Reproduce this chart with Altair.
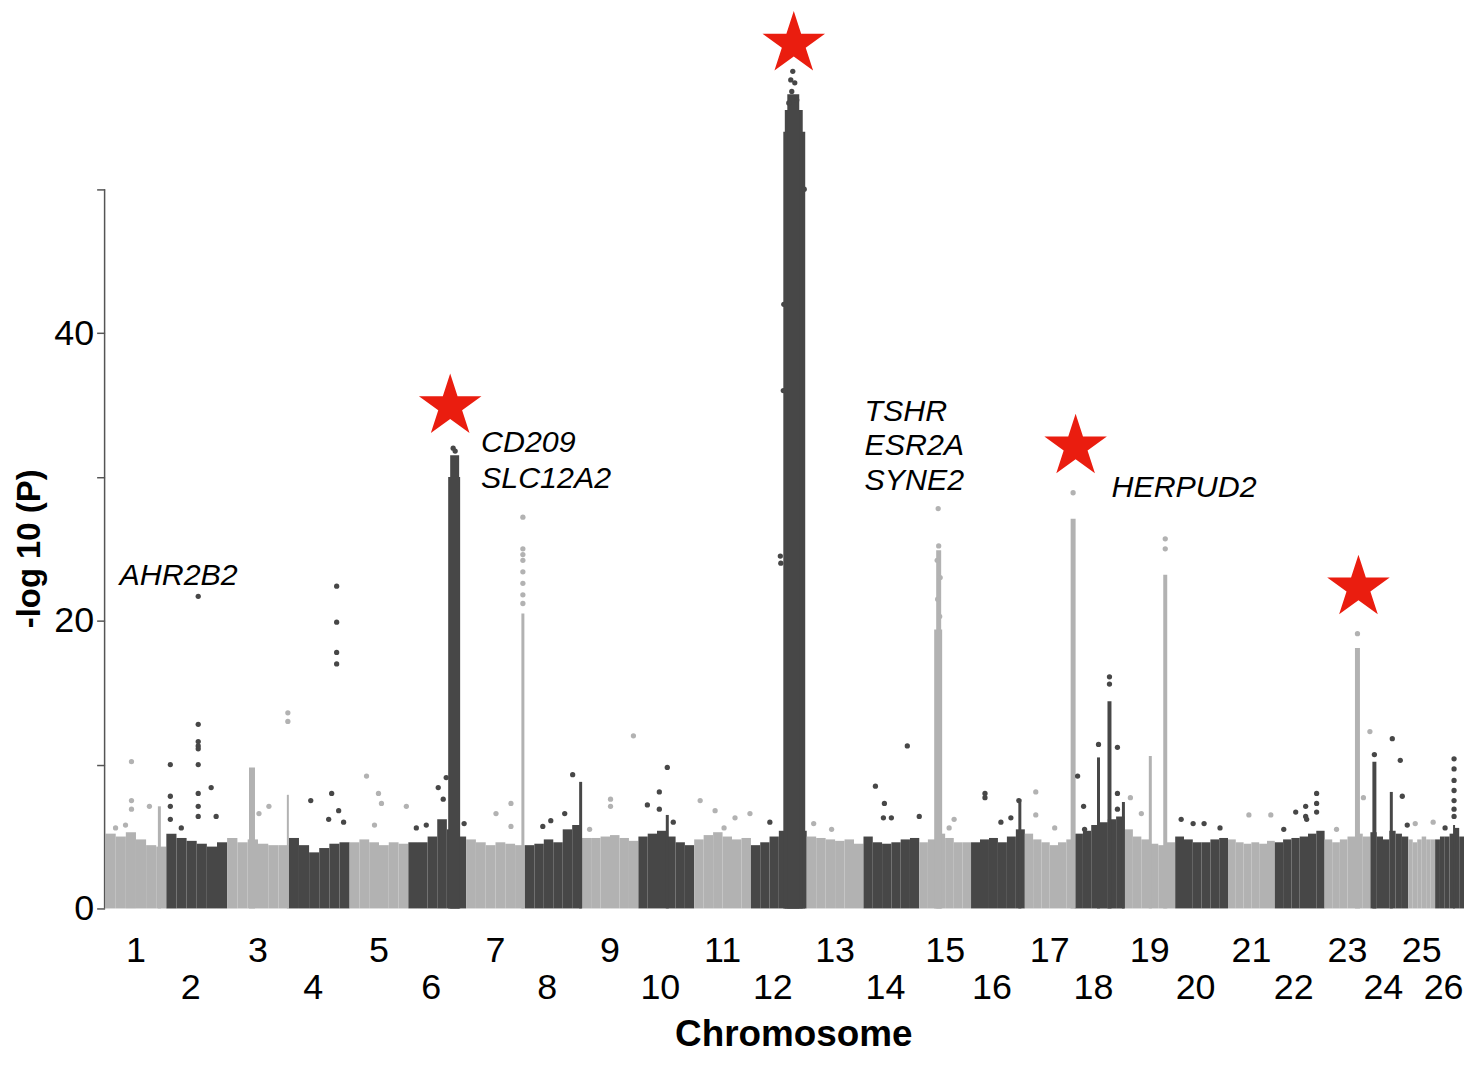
import altair as alt
import pandas as pd

# ---------------- data ----------------
chromosomes = [str(i) for i in range(1, 27)]
# chromosome lengths (Mb, relative)
chrom_len = [61, 61, 62, 61, 59, 58, 59, 57, 57, 56, 57, 56, 57, 56,
             52, 54, 50, 50, 51, 53, 47, 50, 46, 38, 27, 29]

# upper edge of the dense band of SNPs, 6 segments per chromosome (-log10 P)
band_tops = [
    [5.2, 5.0, 5.3, 4.8, 4.4, 4.3],
    [5.2, 4.9, 4.7, 4.5, 4.3, 4.6],
    [4.9, 4.6, 4.8, 4.5, 4.4, 4.4],
    [4.9, 4.4, 3.9, 4.2, 4.5, 4.6],
    [4.6, 4.8, 4.6, 4.4, 4.6, 4.5],
    [4.6, 4.6, 5.0, 6.2, 5.5, 5.0],
    [4.8, 4.6, 4.4, 4.6, 4.5, 4.4],
    [4.4, 4.5, 4.8, 4.6, 5.5, 5.8],
    [4.9, 4.9, 5.0, 5.1, 4.9, 4.7],
    [5.0, 5.2, 5.4, 5.0, 4.6, 4.4],
    [4.8, 5.1, 5.3, 5.0, 4.8, 4.9],
    [4.4, 4.6, 5.0, 5.4, 5.4, 5.4],
    [5.0, 4.9, 4.8, 4.7, 4.8, 4.5],
    [5.0, 4.6, 4.5, 4.6, 4.8, 4.9],
    [4.6, 4.8, 5.2, 4.9, 4.6, 4.6],
    [4.6, 4.8, 4.9, 4.6, 5.0, 5.5],
    [5.2, 4.8, 4.6, 4.4, 4.6, 4.8],
    [5.2, 5.4, 5.8, 6.0, 6.2, 6.4],
    [5.5, 5.0, 4.8, 4.5, 4.4, 4.6],
    [5.0, 4.8, 4.6, 4.6, 4.8, 4.9],
    [4.8, 4.6, 4.5, 4.6, 4.5, 4.7],
    [4.6, 4.8, 4.9, 5.0, 5.2, 5.4],
    [4.8, 4.6, 4.8, 5.0, 5.2, 5.0],
    [5.3, 5.0, 4.8, 5.4, 5.2, 5.0],
    [4.8, 4.6, 4.8, 5.0, 4.8, 4.8],
    [4.8, 5.0, 5.0, 5.2, 5.6, 5.0],
]

# dense association peaks (columns of SNPs): chromosome, position, width, top
col_chrom = [1, 3, 3, 6, 6, 7, 8, 10, 12, 12, 12, 15, 15, 16, 17, 18, 18, 18, 19, 19, 23, 24, 24, 26]
col_pos   = [54, 25, 61, 46, 46.5, 57, 56, 29, 43.5, 43, 42.5, 19, 19.5, 49, 48.5, 24, 35, 49, 26, 41, 33, 4, 21, 19]
col_width = [3, 6, 2, 12, 9, 3, 3, 3, 22, 18, 12, 8, 5, 3, 5, 3, 4, 3, 3, 4, 5, 4, 3, 2]
col_top   = [7.1, 9.8, 7.9, 30.0, 31.5, 20.5, 8.8, 6.5, 54.0, 55.5, 56.6, 19.4, 24.9, 7.6, 27.1,
             10.5, 14.4, 7.4, 10.6, 23.2, 18.1, 10.2, 8.1, 5.8]

# individual SNPs above the band: chromosome, position, -log10 P
pt_chrom = (
    [1] * 6 + [2] * 16 + [3] * 4 + [4] * 9 + [5] * 5 + [6] * 8 + [7] * 11 + [8] * 4
    + [9] * 4 + [10] * 5 + [11] * 5 + [12] * 12 + [13] * 2 + [14] * 6 + [15] * 8
    + [16] * 5 + [17] * 4 + [18] * 9 + [19] * 4 + [20] * 4 + [21] * 2 + [22] * 8
    + [23] * 4 + [24] * 5 + [25] * 2 + [26] * 8
)
pt_pos = [
    26, 26, 26, 44, 10, 20,
    32, 32, 32, 32, 32, 32, 32, 32, 32, 4, 4, 4, 45, 50, 4, 15,
    42, 61, 61, 32,
    48, 48, 48, 48, 22, 43, 50, 40, 55,
    17, 29, 32, 57, 25,
    30, 38, 8, 18, 35, 45, 47, 56,
    57, 57, 57, 57, 57, 57, 57, 57, 45, 30, 45,
    48, 26, 18, 40,
    52, 29, 29, 8,
    29, 21, 9, 21, 35,
    6, 21, 41, 56, 30,
    19, 42, 40, 44, 41, 46, 38, 29.5, 30, 33, 32.5, 53.5,
    7, 25,
    44, 12, 21, 20, 28, 56,
    19, 19.5, 18, 21, 18.5, 20.5, 35, 30,
    14, 14, 48, 30, 40,
    11, 11, 48.5, 30,
    3, 9, 10, 24, 35, 35, 43, 43, 43,
    6, 17, 41, 41,
    6, 18, 29, 45,
    21, 43,
    9, 21, 31, 31, 42, 42, 42, 32,
    45.5, 39, 12, 33,
    22, 30, 32, 37, 4,
    7, 25,
    19, 19, 19, 19, 19, 19, 19, 10,
]
pt_val = [
    10.2, 7.5, 6.9, 7.1, 5.6, 5.8,
    21.7, 12.8, 11.6, 11.3, 11.1, 10.0, 8.0, 7.1, 6.4, 10.0, 7.8, 7.1, 8.4, 6.4, 6.2, 5.6,
    7.1, 13.6, 13.0, 6.6,
    22.4, 19.9, 17.8, 17.0, 7.5, 8.0, 6.8, 6.2, 6.0,
    9.2, 8.0, 7.3, 7.1, 5.8,
    8.4, 9.1, 5.6, 5.8, 7.6, 32.0, 31.8, 5.9,
    27.2, 25.0, 24.6, 24.2, 23.4, 22.6, 21.8, 21.2, 7.3, 6.6, 5.7,
    9.3, 6.1, 5.7, 6.6,
    12.0, 7.6, 7.1, 5.5,
    9.8, 8.1, 7.2, 6.9, 6.0,
    7.5, 6.8, 6.3, 6.6, 5.6,
    6.0, 58.2, 57.6, 57.4, 56.8, 56.2, 56.0, 24.5, 24.0, 42.0, 36.0, 50.0,
    5.9, 5.5,
    11.3, 8.5, 7.3, 6.3, 6.3, 6.4,
    27.8, 25.2, 24.2, 23.0, 21.5, 20.3, 6.2, 5.6,
    8.0, 7.7, 7.5, 6.0, 6.3,
    8.1, 6.5, 28.9, 5.6,
    9.2, 7.1, 5.5, 11.4, 15.6, 16.1, 11.2, 8.0, 6.9,
    7.7, 6.6, 25.7, 25.0,
    6.2, 5.9, 5.9, 5.6,
    6.5, 6.5,
    5.5, 6.7, 7.1, 6.4, 8.0, 7.3, 6.7, 6.2,
    12.3, 7.7, 5.5, 19.1,
    11.8, 10.3, 7.8, 5.8, 10.7,
    5.9, 6.0,
    10.4, 9.7, 8.9, 8.2, 7.5, 6.9, 6.4, 5.6,
]

# highlighted loci (red stars)
star_chrom = [6, 12, 18, 23]
star_pos = [42, 43, 1, 34]
star_val = [34.9, 60.1, 32.1, 22.3]

# candidate gene annotations (x in genome Mb, y in -log10 P)
gene_text = ["AHR2B2", "CD209", "SLC12A2", "TSHR", "ESR2A", "SYNE2", "HERPUD2"]
gene_x = [15, 378, 378, 763, 763, 763, 1011]
gene_y = [22.5, 31.7, 29.2, 33.9, 31.5, 29.1, 28.6]

# ---------------- build tables ----------------
starts = []
acc = 1
for L in chrom_len:
    starts.append(acc)
    acc += L
GENOME_END = acc

def shade(c):
    return "light" if c % 2 == 1 else "dark"

band_rows = []
for i, (s, L) in enumerate(zip(starts, chrom_len)):
    tops = band_tops[i]
    n = len(tops)
    for j, t in enumerate(tops):
        band_rows.append({"x0": s + j * L / n, "x1": s + (j + 1) * L / n,
                          "y0": 0, "y1": t, "shade": shade(i + 1)})
bands = pd.DataFrame(band_rows)

cols = pd.DataFrame({
    "x0": [starts[c - 1] + p - w / 2 for c, p, w in zip(col_chrom, col_pos, col_width)],
    "x1": [starts[c - 1] + p + w / 2 for c, p, w in zip(col_chrom, col_pos, col_width)],
    "y0": 0, "y1": col_top,
    "shade": [shade(c) for c in col_chrom],
})

pts = pd.DataFrame({
    "x": [starts[c - 1] + p for c, p in zip(pt_chrom, pt_pos)],
    "y": pt_val,
    "shade": [shade(c) for c in pt_chrom],
})

stars = pd.DataFrame({
    "x": [starts[c - 1] + p for c, p in zip(star_chrom, star_pos)],
    "y": star_val,
})

labels = pd.DataFrame({
    "x": [s + L / 2 for s, L in zip(starts, chrom_len)],
    "label": chromosomes,
    "odd": [(i + 1) % 2 == 1 for i in range(26)],
})

genes = pd.DataFrame({"x": gene_x, "y": gene_y, "text": gene_text})
axisline = pd.DataFrame({"y0": [0], "y1": [50]})
ytitle = pd.DataFrame({"y": [25], "t": ["-log 10 (P)"]})

# ---------------- chart ----------------
LIGHT, DARK, RED = "#b2b2b2", "#474747", "#ea1d0f"
FONT = "Liberation Sans"
xs = alt.Scale(domain=[0, GENOME_END], nice=False, zero=False)
ys = alt.Scale(domain=[0, 62.45], nice=False, zero=True)
cs = alt.Scale(domain=["light", "dark"], range=[LIGHT, DARK])

YAXIS = alt.Axis(
    values=[0, 10, 20, 30, 40, 50],
    labelExpr="datum.value % 20 === 0 ? datum.label : ''",
    domain=False, grid=False, ticks=True, tickSize=8, tickWidth=1.5,
    tickColor="#555555", labelFontSize=36, labelFont=FONT,
    labelColor="#000000", labelPadding=3, title=None)

STAR = ("M0,-1 L0.2245,-0.309 L0.951,-0.309 L0.363,0.118 L0.588,0.809 "
        "L0,0.382 L-0.588,0.809 L-0.363,0.118 L-0.951,-0.309 L-0.2245,-0.309 Z")

band_layer = alt.Chart(bands).mark_rect(strokeWidth=0).encode(
    x=alt.X("x0:Q", scale=xs, axis=None),
    x2="x1:Q",
    y=alt.Y("y0:Q", scale=ys, axis=YAXIS),
    y2="y1:Q",
    color=alt.Color("shade:N", scale=cs, legend=None),
)

col_layer = alt.Chart(cols).mark_rect(strokeWidth=0).encode(
    x=alt.X("x0:Q", scale=xs, axis=None), x2="x1:Q",
    y=alt.Y("y0:Q", scale=ys, axis=YAXIS), y2="y1:Q",
    color=alt.Color("shade:N", scale=cs, legend=None),
)

pt_layer = alt.Chart(pts).mark_circle(size=28, opacity=1).encode(
    x=alt.X("x:Q", scale=xs, axis=None),
    y=alt.Y("y:Q", scale=ys, axis=YAXIS),
    color=alt.Color("shade:N", scale=cs, legend=None),
)

star_layer = alt.Chart(stars).mark_point(
    shape=STAR, filled=True, size=4356, color=RED, opacity=1, strokeWidth=0
).encode(
    x=alt.X("x:Q", scale=xs, axis=None),
    y=alt.Y("y:Q", scale=ys, axis=YAXIS),
)

axis_layer = alt.Chart(axisline).mark_rule(color="#555555", strokeWidth=1.5).encode(
    x=alt.value(0),
    y=alt.Y("y0:Q", scale=ys, axis=YAXIS), y2="y1:Q",
)

gene_layer = alt.Chart(genes).mark_text(
    align="left", baseline="alphabetic", font=FONT, fontSize=30.5,
    fontStyle="italic", color="#000000"
).encode(
    x=alt.X("x:Q", scale=xs, axis=None),
    y=alt.Y("y:Q", scale=ys, axis=YAXIS),
    text="text:N",
)

odd_lab = alt.Chart(labels[labels.odd]).mark_text(
    align="center", baseline="alphabetic", font=FONT, fontSize=36, color="#000000"
).encode(
    x=alt.X("x:Q", scale=xs, axis=None), y=alt.value(956), text="label:N",
)
even_lab = alt.Chart(labels[~labels.odd]).mark_text(
    align="center", baseline="alphabetic", font=FONT, fontSize=36, color="#000000", dx=-6
).encode(
    x=alt.X("x:Q", scale=xs, axis=None), y=alt.value(993), text="label:N",
)

xtitle = alt.Chart(pd.DataFrame({"t": ["Chromosome"]})).mark_text(
    align="center", baseline="alphabetic", font=FONT, fontSize=37,
    fontWeight="bold", color="#000000"
).encode(x=alt.value(692), y=alt.value(1040), text="t:N")

ytitle_layer = alt.Chart(ytitle).mark_text(
    align="center", baseline="middle", font=FONT, fontSize=33,
    fontWeight="bold", color="#000000", angle=270
).encode(
    x=alt.value(-75),
    y=alt.Y("y:Q", scale=ys, axis=YAXIS),
    text="t:N",
)

chart = alt.layer(
    band_layer, col_layer, pt_layer, axis_layer, star_layer,
    gene_layer, odd_lab, even_lab, xtitle, ytitle_layer,
).properties(
    width=GENOME_END, height=902,
    autosize=alt.AutoSizeParams(type="none"),
    padding={"left": 97, "top": 0, "right": 4, "bottom": 145},
).configure(background="white").configure_view(stroke=None)

chart.save("out.html", embed_options={"renderer": "svg", "actions": False})
